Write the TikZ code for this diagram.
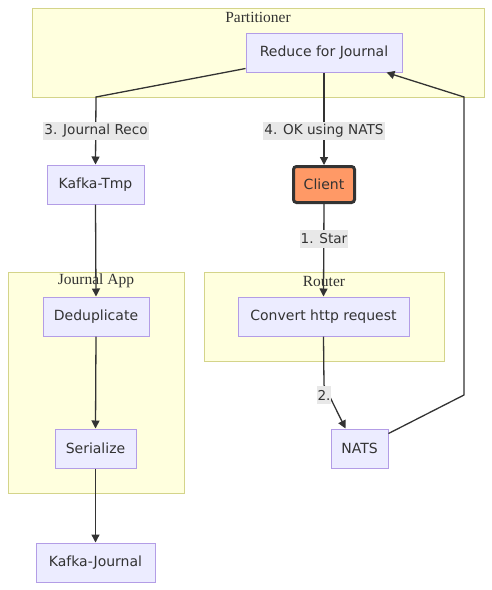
\documentclass[tikz,border=0pt]{standalone}
\usepackage{fontspec}
\setmainfont{Liberation Serif}
\newfontfamily\nodefont{DejaVu Sans}
\usetikzlibrary{arrows.meta}
\definecolor{clfill}{HTML}{FFFFDE}
\definecolor{cldraw}{HTML}{D4D48A}
\definecolor{ndfill}{HTML}{ECECFF}
\definecolor{nddraw}{HTML}{B39DE6}
\definecolor{ln}{HTML}{333333}
\definecolor{lbl}{HTML}{E8E8E8}
\definecolor{txt}{HTML}{333333}
\definecolor{orangefill}{HTML}{FF9966}
\tikzset{
  cluster/.style={draw=cldraw, fill=clfill, line width=1pt},
  ctitle/.style={font=\fontsize{15.5}{17}\selectfont, text=txt, inner sep=0pt},
  box/.style={draw=nddraw, fill=ndfill, line width=1pt, font=\nodefont\fontsize{14}{16}\selectfont, text=txt, inner sep=0pt, align=center},
  clientbox/.style={draw=ln, fill=orangefill, line width=3pt, rounded corners=3pt, font=\nodefont\fontsize{14}{16}\selectfont, text=txt, inner sep=0pt},
  edge/.style={draw=ln, line width=1.3pt, -{Triangle[length=8pt,width=8pt]}},
  elabel/.style={fill=lbl, font=\nodefont\fontsize{13.6}{16}\selectfont, text=txt, inner sep=1pt, minimum height=18pt}
}
\begin{document}
\begin{tikzpicture}[x=1pt,y=-1pt]
\useasboundingbox (0,0) rectangle (492,590);
% clusters
\draw[cluster] (32,8) rectangle (484,97);
\node[ctitle] (tpart) at (258,17) {Partitioner};
\draw[cluster] (8,272) rectangle (184,493);
\node[ctitle] (tjour) at (96,281) {Journal App};
\draw[cluster] (204,272) rectangle (444,361);
\node[ctitle] (trout) at (324,281) {Router};
% nodes
\node[box, minimum width=156pt, minimum height=39pt] (red) at (324,52.5) {Reduce for Journal};
\node[box, minimum width=97pt, minimum height=39pt] (kt) at (95.5,184.5) {Kafka-Tmp};
\node[clientbox, minimum width=61pt, minimum height=36pt] (cl) at (324,184.5) {Client};
\node[box, minimum width=106pt, minimum height=39pt] (dd) at (96,316.5) {Deduplicate};
\node[box, minimum width=81pt, minimum height=39pt] (ser) at (95.5,448.5) {Serialize};
\node[box, minimum width=119pt, minimum height=39pt] (kj) at (95.5,562.5) {Kafka-Journal};
\node[box, minimum width=171pt, minimum height=39pt] (conv) at (323.5,316.5) {Convert http request};
\node[box, minimum width=57pt, minimum height=39pt] (nats) at (359.5,448.5) {NATS};
% bend coordinates
\coordinate (b3) at (96,97);
\coordinate (b2) at (324,385);
\coordinate (bn1) at (464,395);
\coordinate (bn2) at (464,97);
% edges
\draw[edge] ([yshift=-16pt]red.west) -- (b3) -- (kt.north);
\draw[edge] (red.south) -- (cl.north);
\draw[edge] (cl.south) -- (conv.north);
\draw[edge] (conv.south) -- (b2) -- ([xshift=-14pt]nats.north);
\draw[edge] ([yshift=15pt]nats.east) -- (bn1) -- (bn2) -- ([xshift=-16pt]red.south east);
\draw[edge] (kt.south) -- (dd.north);
\draw[edge] (dd.south) -- (ser.north);
\draw[edge] (ser.south) -- (kj.north);
% labels
\node[elabel] (l3) at (96,131) {3. Journal Reco};
\node[elabel] (l4) at (324,131) {4. OK using NATS};
\node[elabel] (l1) at (324,239) {1. Star};
\node[elabel] (l2) at (324,395) {2.};
\end{tikzpicture}
\end{document}
